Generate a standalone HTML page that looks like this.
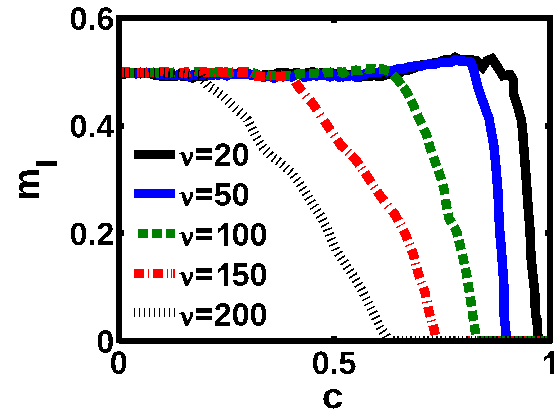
<!DOCTYPE html>
<html><head><meta charset="utf-8"><title>plot</title>
<style>
html,body{margin:0;padding:0;background:#fff;}
body{width:560px;height:420px;overflow:hidden;position:relative;font-family:"Liberation Sans",sans-serif;}
svg{position:absolute;left:0;top:0;}

</style></head><body>
<svg width="560" height="420" viewBox="0 0 560 420">
<defs><path id="gdot" d="M139 0V305H428V0Z"/><path id="g0" d="M1055 705Q1055 348 932 164Q810 -20 565 -20Q81 -20 81 705Q81 958 134 1118Q187 1278 293 1354Q399 1430 573 1430Q823 1430 939 1249Q1055 1068 1055 705ZM773 705Q773 900 754 1008Q735 1116 693 1163Q651 1210 571 1210Q486 1210 442 1162Q399 1115 380 1008Q362 900 362 705Q362 512 382 404Q401 295 444 248Q486 201 567 201Q647 201 690 250Q734 300 754 409Q773 518 773 705Z"/><path id="g2" d="M71 0V195Q126 316 228 431Q329 546 483 671Q631 791 690 869Q750 947 750 1022Q750 1206 565 1206Q475 1206 428 1158Q380 1109 366 1012L83 1028Q107 1224 230 1327Q352 1430 563 1430Q791 1430 913 1326Q1035 1222 1035 1034Q1035 935 996 855Q957 775 896 708Q835 640 760 581Q686 522 616 466Q546 410 488 353Q431 296 403 231H1057V0Z"/><path id="g4" d="M940 287V0H672V287H31V498L626 1409H940V496H1128V287ZM672 957Q672 1011 676 1074Q679 1137 681 1155Q655 1099 587 993L260 496H672Z"/><path id="g5" d="M1082 469Q1082 245 942 112Q803 -20 560 -20Q348 -20 220 76Q93 171 63 352L344 375Q366 285 422 244Q478 203 563 203Q668 203 730 270Q793 337 793 463Q793 574 734 640Q675 707 569 707Q452 707 378 616H104L153 1409H1000V1200H408L385 844Q487 934 640 934Q841 934 962 809Q1082 684 1082 469Z"/><path id="g6" d="M1065 461Q1065 236 939 108Q813 -20 591 -20Q342 -20 208 154Q75 329 75 672Q75 1049 210 1240Q346 1430 598 1430Q777 1430 880 1351Q984 1272 1027 1106L762 1069Q724 1208 592 1208Q479 1208 414 1095Q350 982 350 752Q395 827 475 867Q555 907 656 907Q845 907 955 787Q1065 667 1065 461ZM783 453Q783 573 728 636Q672 700 575 700Q482 700 426 640Q370 581 370 483Q370 360 428 280Q487 199 582 199Q677 199 730 266Q783 334 783 453Z"/><path id="gc" d="M594 -20Q348 -20 214 126Q80 273 80 535Q80 803 215 952Q350 1102 598 1102Q789 1102 914 1006Q1039 910 1071 741L788 727Q776 810 728 860Q680 909 592 909Q375 909 375 546Q375 172 596 172Q676 172 730 222Q784 273 797 373L1079 360Q1064 249 1000 162Q935 75 830 28Q725 -20 594 -20Z"/><path id="gl" d="M143 0V1484H424V0Z"/><path id="gm" d="M780 0V607Q780 892 616 892Q531 892 478 805Q424 718 424 580V0H143V840Q143 927 140 982Q138 1038 135 1082H403Q406 1063 411 980Q416 898 416 867H420Q472 991 550 1047Q627 1103 735 1103Q983 1103 1036 867H1042Q1097 993 1174 1048Q1251 1103 1370 1103Q1528 1103 1611 996Q1694 888 1694 687V0H1415V607Q1415 892 1251 892Q1169 892 1116 812Q1064 733 1059 593V0Z"/><clipPath id="cp"><rect x="119" y="18" width="431" height="323"/></clipPath></defs>
<rect x="0" y="0" width="560" height="420" fill="#fff"/>
<g clip-path="url(#cp)" fill="none" stroke-linejoin="round" shape-rendering="crispEdges">
<polyline points="119,74.03 123.31,74.3 127.62,73.33 131.93,72.81 136.24,72.68 140.55,73.72 144.86,73.02 149.17,72.82 153.48,74.74 157.79,75.41 162.1,76.45 166.41,75.75 170.72,76.42 175.03,76.3 179.34,75.09 183.65,76.66 187.96,76.43 192.27,78.02 196.58,76.21 200.89,75.77 205.2,76.29 209.51,74.89 213.82,74.88 218.13,73.66 222.44,74.07 226.75,74.65 231.06,74.33 235.37,73.81 239.68,72.78 243.99,73.94 248.3,73.59 252.61,74.73 256.92,75.12 261.23,75.58 265.54,74.42 269.85,74.36 274.16,74.46 278.47,72.78 282.78,73.06 287.09,72.71 291.4,74.42 295.71,72.75 300.02,73.37 304.33,73.36 308.64,72.67 312.95,71.68 317.26,73.71 321.57,72.64 325.88,73.56 330.19,72.34 334.5,73.8 338.81,75.91 343.12,76.81 347.43,75.01 351.74,75.07 356.05,76.19 360.36,76.89 364.67,76.52 368.98,76.72 373.29,75.38 377.6,76.21 381.91,76.2 386.22,74.53 390.53,73.25 394.84,72.92 399.15,73.28 403.46,70.25 407.77,70.48 412.08,68.67 416.39,67.2 420.7,65.15 425.01,64.41 429.32,64.65 433.63,62.84 437.94,62.62 442.25,60.49 446.56,59.57 450.87,60.13 455.18,57.43 459.49,59.54 462,59.5 470.7,59.6 476,60.7 482.5,67.2 486.8,61 492,58.6 497.5,67 502.9,75.7 510.3,74.8 513.3,80 513.8,95 518,107.9 521.5,120.7 522.5,130 526.25,180 528.2,208.6 530,230 531,257.5 535,295 535.4,314 537,320 538,338 538.5,341 550,341" stroke="#000" stroke-width="9.5" stroke-linejoin="miter"/>
<polyline points="119,74.87 123.31,72.54 127.62,73.45 131.93,73.33 136.24,73.95 140.55,72.23 144.86,73.09 149.17,72.89 153.48,73.16 157.79,73.99 162.1,74.62 166.41,74.85 170.72,74.41 175.03,75.53 179.34,74.8 183.65,72.74 187.96,76.3 192.27,75.09 196.58,74.86 200.89,75.69 205.2,75.53 209.51,75.26 213.82,74.4 218.13,75.11 222.44,73.6 226.75,75.85 231.06,73.56 235.37,74.27 239.68,74.32 243.99,74.36 248.3,73.85 252.61,75.69 256.92,74.09 261.23,76.81 265.54,76.77 269.85,76.55 274.16,78.12 278.47,76.11 282.78,76.83 287.09,75.27 291.4,76.94 295.71,74.89 300.02,74.4 304.33,77.23 308.64,76.05 312.95,75.62 317.26,75.91 321.57,74.77 325.88,75.38 330.19,76.87 334.5,75.11 338.81,77.29 343.12,75.38 347.43,76.6 351.74,75.31 356.05,77.35 360.36,76.1 364.67,74.17 368.98,72.36 373.29,72.57 377.6,72.66 381.91,71.43 386.22,71.88 390.53,71.59 394.84,69.88 399.15,68.71 403.46,68.84 407.77,67.1 412.08,67.17 416.39,65.36 420.7,66.21 425.01,64.67 429.32,64.03 433.63,64.43 437.94,63.19 442.25,62.3 446.56,62.32 450.87,62.38 455.18,59.65 459.49,61.05 462,61 470.7,61.8 474,71.4 478.2,88.6 483.6,103.6 489,118.6 491,130 493.75,145 496,167.5 498,192.5 499,217.5 500,235 501,245 503.75,282.5 504,314 506.5,338 507,341 550,341" stroke="#00f" stroke-width="9.5"/>
<g stroke="#008000" stroke-width="9.5"><polyline points="119,72.55 120,72.68"/><polyline points="124.3,72.87 127.62,72.03 131.93,73 134.3,72.65"/><polyline points="136.5,72.37 140.55,72.37 144.86,73.45 146.5,73.12"/><polyline points="150.3,72.55 153.48,72.48 157.79,72.86 160.3,72.98"/><polyline points="164.5,72.74 166.41,72.48 170.72,72.79 174.5,72.11"/><polyline points="179.5,72.32 183.65,72.28 187.96,71.83 189.5,71.8"/><polyline points="194.4,71.72 196.58,71.69 200.89,72.38 204.4,72.41"/><polyline points="209,72.35 209.51,72.34 213.82,72.53 218.13,71.83 219,71.96"/><polyline points="223.5,72.5 226.75,72.62 231.06,72.88 233.5,72.42"/><polyline points="238,72.21 239.68,72.3 243.99,71.49 248,72.2"/><polyline points="252.5,72.69 252.61,72.71 256.92,74.78 261.23,75.97 262.5,75.47"/><polyline points="266.5,74.58 269.85,75.7 274.16,75.4 276.5,75.19"/><polyline points="280.5,75.17 282.78,75.34 287.09,75.31 290.5,75.37"/><polyline points="294.8,74.54 295.71,74.31 300.02,73.78 304.33,73.66 304.8,73.63"/><polyline points="308.9,73.38 312.95,73.72 317.26,73.2 318.9,73.5"/><polyline points="323.2,73.36 325.88,72.34 330.19,72.51 333.2,72.37"/><polyline points="337.4,71.74 338.81,71.46 343.12,73.1 347.4,70.39"/><polyline points="351.2,70.8 351.74,70.86 356.05,70.17 360.36,70.74 361.2,70.29"/><polyline points="365.4,68.57 368.98,69.41 373.29,68.45 375.4,68.64"/><polyline points="379.2,68.89 382,69 389,71"/></g>
<g stroke="#008000" stroke-width="9.5"><polyline points="392.95,74.95 397.3,79.3 401.53,84.88"/><polyline points="403.15,87.01 406.7,91.7 409.31,96.97"/><polyline points="410.86,100.07 413.3,105 415.43,110.07"/><polyline points="417.18,114.25 419.3,119.3 421.67,124.24"/><polyline points="423.69,128.48 426,133.3 427.47,138.44"/><polyline points="428.56,142.26 430,147.3 431.72,152.25"/><polyline points="433.26,156.68 435,161.7 436.87,166.68"/><polyline points="438.15,170.08 440,175 441.42,180.07"/><polyline points="442.62,184.38 444,189.3 444.75,194.36"/><polyline points="445.46,199.18 446.2,204.2 447.17,209.18"/><polyline points="447.97,213.25 449,218.5 451.73,223.1"/><polyline points="453.84,226.65 456.6,231.3 457.9,236.55"/><polyline points="458.76,240.01 460,245 461.19,250.01"/><polyline points="462.21,254.31 463.4,259.3 464.46,264.31"/><polyline points="465.25,268.02 466.3,273 467.11,278.02"/><polyline points="467.8,282.3 468.6,287.3 469.4,292.3"/><polyline points="470.1,296.61 470.9,301.6 471.6,306.61"/><polyline points="472.2,310.9 472.9,315.9 473.65,320.9"/><polyline points="474.15,324.3 474.9,329.3 475.7,334.3"/></g>
<g stroke="#008000" stroke-width="9.5"><polyline points="477,341 550,341"/></g>
<g stroke="#f00" stroke-width="9.5"><polyline points="119.3,72.04 123.31,72.24 127.62,71.79 129.3,71.95"/><polyline points="138.2,72.39 140.55,72.26 144.86,72.84 148.5,71.82"/><polyline points="159.5,71.72 162.1,71.71 166.41,72.02 168.9,72.14"/><polyline points="178.75,72.38 179.34,72.39 183.65,73.26 187.96,72.59 189.9,72.04"/><polyline points="199.3,72.02 200.89,71.88 205.2,71.94 209.5,72.86"/><polyline points="217.9,71.3 218.13,71.25 222.44,72.39 226.75,72.1 228.2,71.96"/><polyline points="237.5,71.88 239.68,71.96 243.99,72.27 248,72.1"/><polyline points="255.4,75.91 256,76.3 265,76.35"/><polyline points="275.9,76.41 285.7,76.47"/><polyline points="133.25,72.3 134.35,72.37"/><polyline points="152.9,72.05 153.48,72.11 154,72.07"/><polyline points="173.3,72.29 174.4,72.32"/><polyline points="193.9,71.71 195,71.95"/><polyline points="213,72.25 213.82,72.11 214.1,72.05"/><polyline points="232.2,71.71 233.3,71.74"/><polyline points="251.2,73.42 252.3,73.93"/><polyline points="269.8,76.38 270.9,76.38"/><polyline points="289.3,76.48 290.4,76.49"/></g>
<g stroke="#f00" stroke-width="9.5"><polyline points="295.28,81.67 298.6,86.9 302.58,91.65"/><polyline points="309.59,100.02 313.6,104.8 317.04,110"/><polyline points="324.08,120.67 327.4,125.7 330.81,130.67"/><polyline points="336.81,139.42 340.5,144.8 345.14,149.38"/><polyline points="351.05,155.21 355.7,159.8 359.44,165.17"/><polyline points="364.64,172.64 368.1,177.6 371.46,182.63"/><polyline points="377.07,191.06 380.5,196.2 384.32,201.05"/><polyline points="391.93,210.73 395.6,215.4 398.32,220.68"/><polyline points="403.19,230.12 405.7,235 407.71,240.11"/><polyline points="411.37,249.4 413.3,254.3 414.64,259.39"/><polyline points="416.97,268.24 418.3,273.3 420.04,278.23"/><polyline points="423.27,287.41 425,292.3 426.05,297.38"/><polyline points="427.96,306.66 429,311.7 430.43,316.65"/><polyline points="432.87,325.05 434.3,330 435.37,335.04"/><polyline points="305.68,95.35 306.52,96.35"/><polyline points="320.14,114.71 320.86,115.79"/><polyline points="333.58,134.71 334.32,135.79"/><polyline points="347.64,151.84 348.56,152.76"/><polyline points="361.53,168.17 362.27,169.23"/><polyline points="373.94,186.36 374.66,187.44"/><polyline points="387.65,205.29 388.45,206.31"/><polyline points="400.35,224.62 400.95,225.78"/><polyline points="409.26,244.05 409.74,245.25"/><polyline points="415.63,263.17 415.97,264.43"/><polyline points="421.43,282.19 421.87,283.41"/><polyline points="426.87,301.36 427.13,302.64"/><polyline points="431.47,320.23 431.83,321.47"/></g>
<g stroke="#f00" stroke-width="9.5"><polyline points="440.7,341 441.9,341"/></g><g stroke="#f00" stroke-width="9.5"><polyline points="455,341 456.2,341"/></g><g stroke="#f00" stroke-width="9.5"><polyline points="468.4,341 469.6,341"/></g><g stroke="#f00" stroke-width="9.5"><polyline points="481,341 482.2,341"/></g><g stroke="#f00" stroke-width="9.5"><polyline points="498.4,341 499.6,341"/></g><g stroke="#f00" stroke-width="9.5"><polyline points="511.8,341 513,341"/></g><g stroke="#f00" stroke-width="9.5"><polyline points="524.3,341 525.5,341"/></g><g stroke="#f00" stroke-width="9.5"><polyline points="537.7,341 538.9,341"/></g>
<polyline points="119,72.5 150,73 180,73.5 201,75" stroke="#000" stroke-width="9.5" stroke-dasharray="1.1 3.85"/>
<polyline points="201,75.5 203,79.5 208.3,86 216,91 223.6,96.7 230.2,103.3 236,109 241.7,113.8 247.4,119.5 251.2,127.1 255,134.8 258.8,141.4 263,147.5 270.7,155.7 281.2,163.6 291.6,172.7 299.5,183.2 306,193.7 312.6,204.1 320.8,216.5 327,228 330,236 336.4,250.5 344.7,262.9 352.9,275.2 361.1,288.9 367.9,302.6 374.8,316.3 380.3,327.3 385.8,335.5 388.5,341" stroke="#000" stroke-width="9.5" stroke-dasharray="1.6 3.7"/>
<g stroke="#000" stroke-width="9.5"><polyline points="393,341 394.5,341"/><polyline points="397.31,341 398.81,341"/><polyline points="401.62,341 403.12,341"/><polyline points="405.93,341 407.43,341"/><polyline points="410.24,341 411.74,341"/><polyline points="414.55,341 416.05,341"/><polyline points="418.86,341 420.36,341"/><polyline points="423.17,341 424.67,341"/><polyline points="427.48,341 428.98,341"/><polyline points="431.79,341 433.29,341"/><polyline points="436.1,341 437.6,341"/><polyline points="440.41,341 441.91,341"/><polyline points="444.72,341 446.22,341"/><polyline points="449.03,341 450.53,341"/><polyline points="453.34,341 454.84,341"/><polyline points="457.65,341 459.15,341"/><polyline points="461.96,341 463.46,341"/><polyline points="466.27,341 467.77,341"/><polyline points="470.58,341 472.08,341"/><polyline points="474.89,341 476.39,341"/><polyline points="479.2,341 480.7,341"/><polyline points="483.51,341 485.01,341"/><polyline points="487.82,341 489.32,341"/><polyline points="492.13,341 493.63,341"/><polyline points="496.44,341 497.94,341"/><polyline points="500.75,341 502.25,341"/><polyline points="505.06,341 506.56,341"/><polyline points="509.37,341 510.87,341"/><polyline points="513.68,341 515.18,341"/><polyline points="517.99,341 519.49,341"/><polyline points="522.3,341 523.8,341"/><polyline points="526.61,341 528.11,341"/><polyline points="530.92,341 532.42,341"/><polyline points="535.23,341 536.73,341"/><polyline points="539.54,341 541.04,341"/><polyline points="543.85,341 545.35,341"/><polyline points="548.16,341 549.66,341"/></g>
</g>
<!-- legend samples -->
<g shape-rendering="crispEdges">
<rect x="134" y="150" width="41" height="9" fill="#000"/>
<rect x="134" y="189" width="41" height="9" fill="#00f"/>
<g fill="#008000">
<rect x="137.9" y="229" width="10" height="9"/><rect x="152.1" y="229" width="9.8" height="9"/><rect x="166.1" y="229" width="8.9" height="9"/>
</g>
<g fill="#f00">
<rect x="134" y="268.7" width="10" height="9.2"/><rect x="148.2" y="268.7" width="1" height="9.2"/><rect x="153.2" y="268.7" width="9.9" height="9.2"/><rect x="167.3" y="268.7" width="1" height="9.2"/><rect x="171.3" y="268.7" width="0.9" height="9.2"/><rect x="172.9" y="268.7" width="2.1" height="9.2"/>
</g>
<g fill="#000"><rect x="134.0" y="308.2" width="1" height="8.8"/><rect x="138.9" y="308.2" width="1" height="8.8"/><rect x="143.9" y="308.2" width="1" height="8.8"/><rect x="148.8" y="308.2" width="1" height="8.8"/><rect x="153.8" y="308.2" width="1" height="8.8"/><rect x="158.8" y="308.2" width="1" height="8.8"/><rect x="163.7" y="308.2" width="1" height="8.8"/><rect x="168.7" y="308.2" width="1" height="8.8"/><rect x="173.6" y="308.2" width="1" height="8.8"/></g>
</g>
<!-- axes box -->
<g fill="#000" shape-rendering="crispEdges">
<rect x="116" y="15" width="6" height="328"/>
<rect x="547" y="15" width="6" height="328"/>
<rect x="116" y="15" width="437" height="6"/>
<rect x="119" y="338" width="433" height="6"/>
<rect x="119" y="123" width="5" height="6"/><rect x="119" y="230" width="5" height="6"/>
<rect x="545" y="123" width="5" height="6"/><rect x="545" y="230" width="5" height="6"/>
<rect x="331" y="18" width="6" height="5"/><rect x="331" y="336" width="6" height="5"/>
</g>
<g shape-rendering="crispEdges">
<use href="#g0" transform="translate(69.54,29.70) scale(0.01572,-0.01572)"/><use href="#gdot" transform="translate(87.45,29.70) scale(0.01572,-0.01572)"/><use href="#g6" transform="translate(96.39,29.70) scale(0.01572,-0.01572)"/><use href="#g0" transform="translate(69.54,137.40) scale(0.01572,-0.01572)"/><use href="#gdot" transform="translate(87.45,137.40) scale(0.01572,-0.01572)"/><use href="#g4" transform="translate(96.39,137.40) scale(0.01572,-0.01572)"/><use href="#g0" transform="translate(69.54,245.00) scale(0.01572,-0.01572)"/><use href="#gdot" transform="translate(87.45,245.00) scale(0.01572,-0.01572)"/><use href="#g2" transform="translate(96.39,245.00) scale(0.01572,-0.01572)"/><use href="#g0" transform="translate(96.39,352.60) scale(0.01572,-0.01572)"/><use href="#g0" transform="translate(109.75,373.80) scale(0.01572,-0.01572)"/><use href="#g0" transform="translate(311.72,373.90) scale(0.01572,-0.01572)"/><use href="#gdot" transform="translate(329.63,373.90) scale(0.01572,-0.01572)"/><use href="#g5" transform="translate(338.57,373.90) scale(0.01572,-0.01572)"/><polygon points="550,351 554.2,351 554.2,374 549.7,374 549.7,357.6 547.5,358.3 545,360.9 543.8,360.9 543.8,357 546.5,355.8 549,352.8"/>
<use href="#gc" transform="translate(321.77,408.25) scale(0.01912,-0.01747)"/><use href="#gm" transform="matrix(0,-0.01758,-0.01840,0,39.30,200.27)"/><use href="#gl" transform="matrix(0,-0.01851,-0.01442,0,57.10,168.85)"/>
<rect x="196" y="148.4" width="16" height="4.4"/><rect x="196" y="155.9" width="16" height="4.1"/><use href="#g2" transform="translate(213.80,165.70) scale(0.01572,-0.01572)"/><use href="#g0" transform="translate(231.71,165.70) scale(0.01572,-0.01572)"/><polygon points="178.9,153 181,153 181,152 184.1,152 187.7,160.8 190.1,155.5 190.1,152 193,152 193,156.5 188.1,166 185.1,166 181.3,154 178.9,154"/><rect x="196" y="188.2" width="16" height="4.4"/><rect x="196" y="195.7" width="16" height="4.1"/><use href="#g5" transform="translate(213.80,205.50) scale(0.01572,-0.01572)"/><use href="#g0" transform="translate(231.71,205.50) scale(0.01572,-0.01572)"/><polygon points="178.9,192.8 181,192.8 181,191.8 184.1,191.8 187.7,200.6 190.1,195.3 190.1,191.8 193,191.8 193,196.3 188.1,205.8 185.1,205.8 181.3,193.8 178.9,193.8"/><rect x="196" y="228.2" width="16" height="4.4"/><rect x="196" y="235.7" width="16" height="4.1"/><polygon points="224,222.8 228.2,222.8 228.2,245.8 223.7,245.8 223.7,229.4 221.5,230.1 219,232.7 217.8,232.7 217.8,228.8 220.5,227.6 223,224.6"/><use href="#g0" transform="translate(231.70,245.50) scale(0.01572,-0.01572)"/><use href="#g0" transform="translate(249.61,245.50) scale(0.01572,-0.01572)"/><polygon points="178.9,232.8 181,232.8 181,231.8 184.1,231.8 187.7,240.6 190.1,235.3 190.1,231.8 193,231.8 193,236.3 188.1,245.8 185.1,245.8 181.3,233.8 178.9,233.8"/><rect x="196" y="268.3" width="16" height="4.4"/><rect x="196" y="275.8" width="16" height="4.1"/><polygon points="224,262.9 228.2,262.9 228.2,285.9 223.7,285.9 223.7,269.5 221.5,270.2 219,272.8 217.8,272.8 217.8,268.9 220.5,267.7 223,264.7"/><use href="#g5" transform="translate(231.70,285.60) scale(0.01572,-0.01572)"/><use href="#g0" transform="translate(249.61,285.60) scale(0.01572,-0.01572)"/><polygon points="178.9,272.9 181,272.9 181,271.9 184.1,271.9 187.7,280.7 190.1,275.4 190.1,271.9 193,271.9 193,276.4 188.1,285.9 185.1,285.9 181.3,273.9 178.9,273.9"/><rect x="196" y="308.3" width="16" height="4.4"/><rect x="196" y="315.8" width="16" height="4.1"/><use href="#g2" transform="translate(213.80,325.60) scale(0.01572,-0.01572)"/><use href="#g0" transform="translate(231.71,325.60) scale(0.01572,-0.01572)"/><use href="#g0" transform="translate(249.62,325.60) scale(0.01572,-0.01572)"/><polygon points="178.9,312.9 181,312.9 181,311.9 184.1,311.9 187.7,320.7 190.1,315.4 190.1,311.9 193,311.9 193,316.4 188.1,325.9 185.1,325.9 181.3,313.9 178.9,313.9"/>
</g>
</svg>
</body></html>
